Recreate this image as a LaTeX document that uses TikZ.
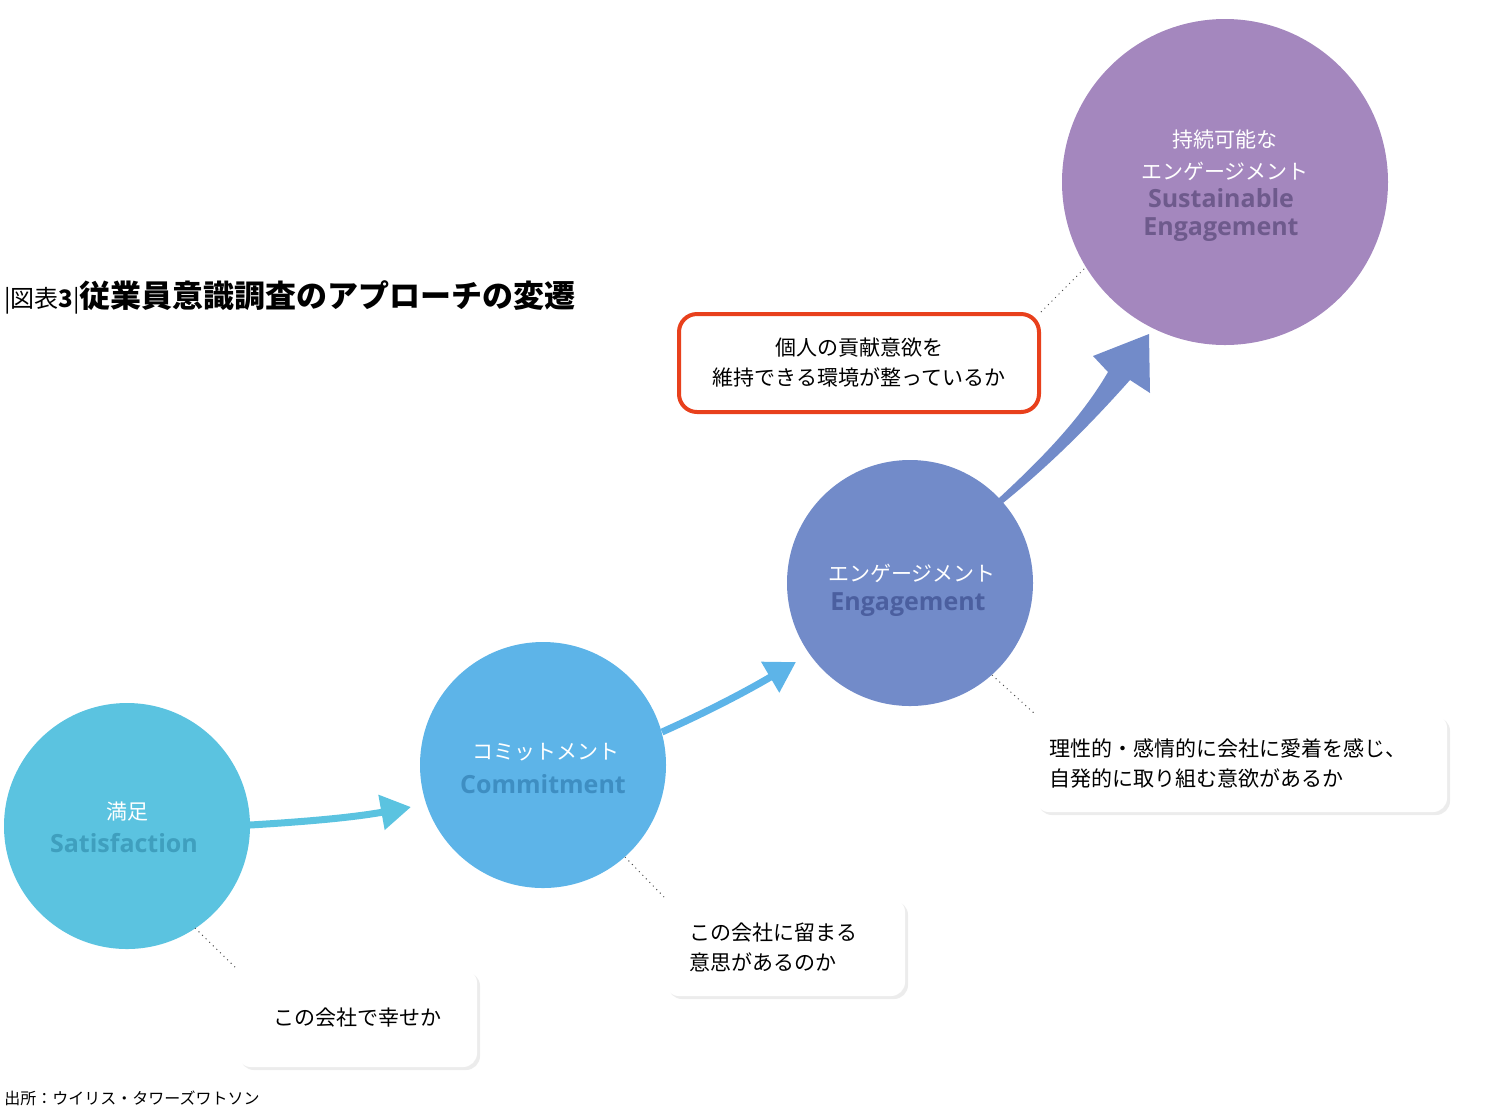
\documentclass[tikz,border=0pt]{standalone}
\usepackage{fontspec}
\setmainfont{Noto Sans CJK JP}
\newfontfamily\latf{Open Sans}
\usetikzlibrary{shadows,arrows.meta}
\definecolor{cS}{HTML}{5BC3E0}\definecolor{cC}{HTML}{5DB4E8}
\definecolor{cE}{HTML}{728BC9}\definecolor{cU}{HTML}{A487BE}
\definecolor{tS}{HTML}{3F9FBE}\definecolor{tC}{HTML}{3E8EC2}
\definecolor{tE}{HTML}{4B5F9F}\definecolor{tU}{HTML}{6E5A8C}
\definecolor{red1}{HTML}{E8401C}
\begin{document}
\begin{tikzpicture}[x=0.5pt,y=-0.5pt,
 circ/.style={circle,inner sep=0pt},
 jp/.style={text=white,font=\fontsize{10.5}{12}\selectfont,align=center},
 en/.style={font=\latf\bfseries\fontsize{12.5}{13}\selectfont,align=center},
 box/.style={draw=none,fill=white,rounded corners=7pt,drop shadow={opacity=0.15,shadow xshift=1.5pt,shadow yshift=-1.5pt},font=\fontsize{10.5}{15}\selectfont,align=left},
 dot/.style={dotted,line width=0.5pt,black!70},
 arr/.style={line width=3.5pt,-{Triangle[length=15pt,width=17pt]}}]
\useasboundingbox (0,0) rectangle (1500,1116);
\fill[cS] (127,826) circle (123);
\fill[cC] (543,765) circle (123);
\fill[cE] (910,583) circle (123);
\fill[cU] (1225,182) circle (163);
\coordinate (sat) at (127,826);
\node[jp] at (127,812) {満足};
\node[en,text=tS] at (124,843) {Satisfaction};
\node[jp] at (546,752) {コミットメント};
\node[en,text=tC] at (543,784) {Commitment};
\node[jp] at (912,573) {エンゲージメント};
\node[en,text=tE] at (908,605) {Engagement};
\node[jp,font=\fontsize{10.5}{16}\selectfont] at (1225,155) {持続可能な\\エンゲージメント};
\node[en,text=tU,font=\latf\bfseries\fontsize{12.5}{14}\selectfont] at (1221,215) {Sustainable\\Engagement};
% arrows
\coordinate (a1s) at (250,825); \coordinate (a1e) at (411,807);
\draw[arr,cS] (a1s) .. controls (300,822) and (350,818) .. (a1e);
\coordinate (a2s) at (662,732); \coordinate (a2e) at (796,662);
\draw[arr,cC] (a2s) .. controls (700,715) and (740,695) .. (a2e);
\fill[cE] (998,499) .. controls (1040,460) and (1080,420) .. (1108,372)
 -- (1093,356) -- (1149,334) -- (1150,393) -- (1130,380)
 .. controls (1090,425) and (1050,465) .. (1003,503) -- cycle;
% boxes
\node[box,minimum width=120pt,minimum height=49pt,align=center] (b1) at (357,1018) {この会社で幸せか};
\node[box,minimum width=120pt,minimum height=49pt,text width=96pt] (b2) at (785,947) {この会社に留まる\\意思があるのか};
\node[box,minimum width=206pt,minimum height=49pt,text width=192pt] (b3) at (1241,763) {理性的・感情的に会社に愛着を感じ、\\自発的に取り組む意欲があるか};
\node[draw=red1,line width=2pt,fill=white,rounded corners=9pt,minimum width=180pt,minimum height=49pt,align=center,font=\fontsize{10.5}{15}\selectfont] (b4) at (859,363) {個人の貢献意欲を\\維持できる環境が整っているか};
\draw[dot] (195,928) -- (b1.north west);
\draw[dot] (625,857) -- (b2.north west);
\draw[dot] (992,675) -- (b3.north west);
\draw[dot] (b4.north east) -- (1085,268);
% title
\node[anchor=west,inner sep=0pt] (t) at (4,297) {\fontsize{12}{14}\selectfont |図表\textbf{3}|\fontsize{15.5}{18}\selectfont\bfseries 従業員意識調査のアプローチの変遷};
\node[anchor=west,inner sep=0pt,font=\fontsize{8}{10}\selectfont] (src) at (4,1098) {出所：ウイリス・タワーズワトソン};
\end{tikzpicture}
\end{document}
